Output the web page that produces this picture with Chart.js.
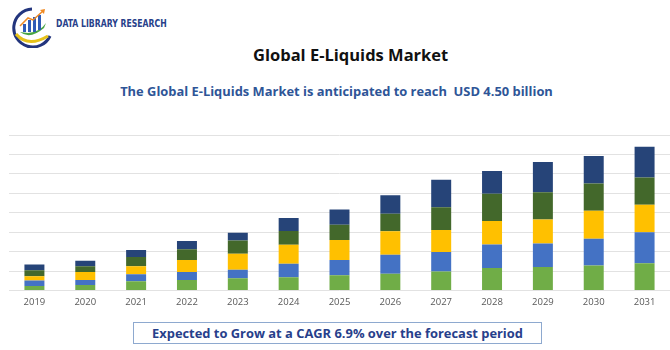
<!DOCTYPE html>
<html>
<head>
<meta charset="utf-8">
<script src="https://cdn.jsdelivr.net/npm/chart.js@4/dist/chart.umd.min.js"></script>
<style>
  html, body { margin:0; padding:0; background:#fff; }
  body { width:670px; height:350px; position:relative; overflow:hidden; font-family:"Open Sans", sans-serif; }
  .logo { position:absolute; left:10px; top:6px; }
  .brand { position:absolute; left:56px; top:18px; font-family:"DejaVu Sans Condensed","DejaVu Sans",sans-serif; font-weight:bold; font-size:10px; color:#283f8a; transform:scaleX(0.86); transform-origin:left top; white-space:nowrap; }
  .title { position:absolute; left:253px; top:43px; font-weight:bold; font-size:16.5px; color:#111; white-space:nowrap; }
  .subtitle { position:absolute; left:0; width:673px; top:82px; text-align:center; font-weight:bold; font-size:12.9px; color:#2e5597; white-space:pre; }
  .cagr { position:absolute; left:133px; top:322px; width:409px; height:22px; border:1px solid #8ea9cf; box-sizing:border-box; text-align:center; line-height:20px; font-weight:bold; font-size:12.9px; color:#27408b; }
  #wrap { position:absolute; left:0; top:120px; width:670px; height:194px; }
</style>
</head>
<body>
<svg class="logo" width="46" height="42" viewBox="0 0 46 42">
  <path d="M22 3 A19 19 0 1 0 40 30" fill="none" stroke="#23357d" stroke-width="3"/>
  <path d="M6 28 Q18 42 38 30" fill="none" stroke="#e6c21a" stroke-width="3"/>
  <path d="M10 26 Q20 34 34 22 L36 17 Q30 26 18 27 Z" fill="#4aa544"/>
  <rect x="13" y="18" width="3" height="8" fill="#2f5bb7"/>
  <rect x="18" y="14" width="3" height="12" fill="#2f5bb7"/>
  <rect x="23" y="11" width="3" height="15" fill="#2f5bb7"/>
  <rect x="28" y="9" width="3" height="15" fill="#2f5bb7"/>
  <path d="M10 20 L18 12 L23 14 L33 5" fill="none" stroke="#f08a24" stroke-width="1.5"/>
  <path d="M30 4 L35 3 L34 8 Z" fill="#f08a24"/>
</svg>
<div class="brand">DATA LIBRARY RESEARCH</div>
<div class="title">Global E-Liquids Market</div>
<div class="subtitle">The Global E-Liquids Market is anticipated to reach  USD 4.50 billion</div>
<div id="wrap"><canvas id="chart" width="670" height="194"></canvas></div>
<div class="cagr">Expected to Grow at a CAGR 6.9% over the forecast period</div>

<script>
// data (grid unit = one gridline step)
const years = ['2019','2020','2021','2022','2023','2024','2025','2026','2027','2028','2029','2030','2031'];
const segA = [0.24, 0.29, 0.48, 0.55, 0.64, 0.69, 0.79, 0.86, 0.98, 1.16, 1.21, 1.29, 1.40]; // light green
const segB = [0.28, 0.26, 0.36, 0.40, 0.43, 0.69, 0.78, 0.98, 1.00, 1.21, 1.21, 1.38, 1.60]; // blue
const segC = [0.22, 0.41, 0.41, 0.62, 0.83, 0.98, 1.03, 1.21, 1.14, 1.21, 1.24, 1.43, 1.41]; // yellow
const segD = [0.31, 0.29, 0.48, 0.55, 0.67, 0.71, 0.79, 0.90, 1.17, 1.40, 1.40, 1.41, 1.40]; // dark green
const segE = [0.29, 0.29, 0.36, 0.43, 0.41, 0.66, 0.78, 0.95, 1.41, 1.17, 1.55, 1.41, 1.59]; // navy
const colors = ['#70ad47', '#4472c4', '#ffc000', '#43682b', '#264478'];

const mk = (data, i) => ({
  data, backgroundColor: colors[i], borderWidth: 0,
  barPercentage: 0.393, categoryPercentage: 1
});

new Chart(document.getElementById('chart'), {
  type: 'bar',
  data: { labels: years, datasets: [mk(segA,0), mk(segB,1), mk(segC,2), mk(segD,3), mk(segE,4)] },
  options: {
    responsive: false, animation: false,
    layout: { padding: { top: 15, left: 9, right: 0, bottom: 0 } },
    plugins: { legend: { display: false }, tooltip: { enabled: false } },
    scales: {
      x: {
        stacked: true,
        grid: { display: false, drawTicks: false },
        border: { display: false },
        ticks: { color: '#595959', font: { family: 'Open Sans', size: 9.5 }, padding: 6, maxRotation: 0 }
      },
      y: {
        stacked: true, min: 0, max: 8,
        grid: { color: '#e2e2e2', lineWidth: 1, drawTicks: false },
        border: { display: false },
        ticks: { display: false, stepSize: 1 }
      }
    }
  }
});
</script>
</body>
</html>
